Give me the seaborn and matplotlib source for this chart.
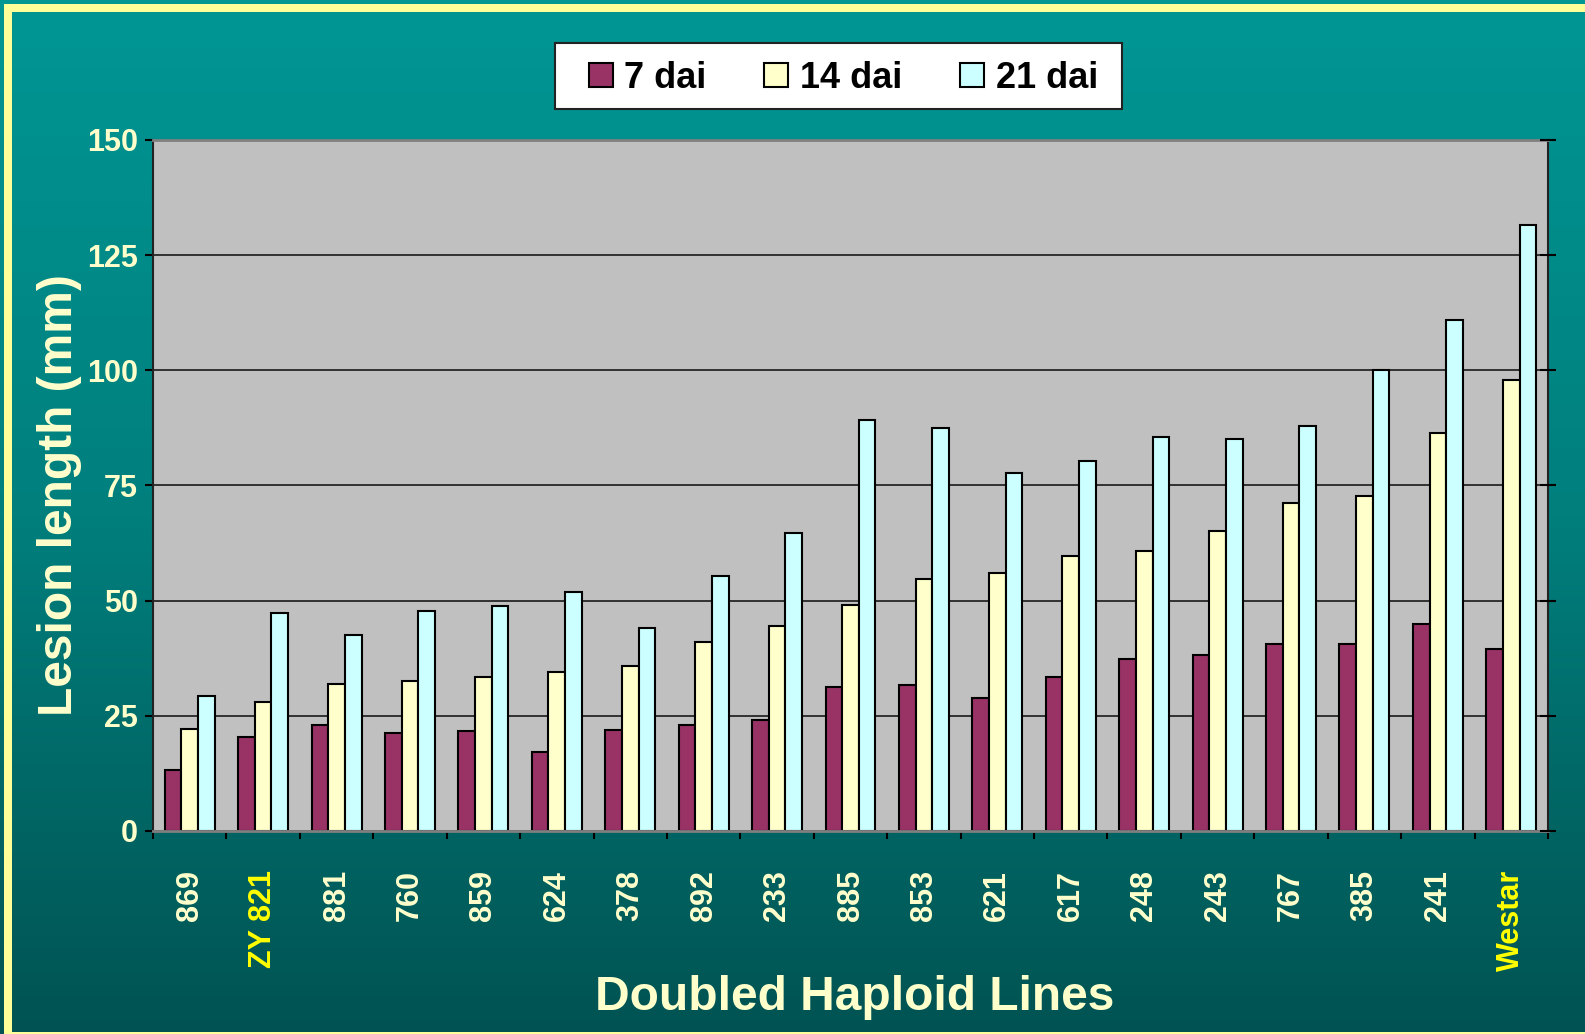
import numpy as np
import pandas as pd
import matplotlib
matplotlib.use("Agg")
import matplotlib.pyplot as plt
import seaborn as sns
from matplotlib.patches import Rectangle, Patch
from matplotlib.colors import LinearSegmentedColormap
from matplotlib.transforms import ScaledTranslation

# ---- data ----
lines = ["869", "ZY 821", "881", "760", "859", "624", "378", "892", "233", "885",
         "853", "621", "617", "248", "243", "767", "385", "241", "Westar"]
series = ["7 dai", "14 dai", "21 dai"]
dai7 = [13.2, 20.3, 23.0, 21.3, 21.7, 17.1, 21.9, 23.0, 24.1, 31.3,
        31.6, 28.9, 33.5, 37.3, 38.1, 40.5, 40.6, 44.9, 39.5]
dai14 = [22.1, 28.1, 32.0, 32.5, 33.5, 34.6, 35.9, 41.0, 44.5, 49.1,
         54.8, 56.1, 59.8, 60.7, 65.2, 71.3, 72.7, 86.3, 98.0]
dai21 = [29.2, 47.4, 42.5, 47.8, 48.8, 51.9, 44.0, 55.4, 64.6, 89.3,
         87.4, 77.7, 80.4, 85.6, 85.2, 88.0, 100.1, 110.9, 131.5]
yticks = [0, 25, 50, 75, 100, 125, 150]
highlight = ["ZY 821", "Westar"]

colors = ["#993366", "#FFFFCC", "#CCFFFF"]

df = pd.DataFrame({
    "line": lines * 3,
    "dai": [series[0]] * len(lines) + [series[1]] * len(lines) + [series[2]] * len(lines),
    "value": dai7 + dai14 + dai21,
})

plt.rcParams["font.family"] = ["Liberation Sans", "DejaVu Sans"]
plt.rcParams["font.weight"] = "bold"

W, H = 1585, 1034
fig = plt.figure(figsize=(W / 100, H / 100), dpi=100)

# background gradient + yellow frame
bg = fig.add_axes([0, 0, 1, 1], zorder=0)
grad = np.linspace(0, 1, 256).reshape(-1, 1)
cmap = LinearSegmentedColormap.from_list("bg", ["#009694", "#007F7D", "#005352"])
bg.imshow(grad, aspect="auto", cmap=cmap, extent=[0, 1, 0, 1], origin="upper")
bg.set_xlim(0, 1)
bg.set_ylim(0, 1)
bg.axis("off")
yel = "#FFFF99"
bg.add_patch(Rectangle((4 / W, 0), 8 / W, (H - 4) / H, color=yel, lw=0))
bg.add_patch(Rectangle((4 / W, (H - 12) / H), (W - 4) / W, 8 / H, color=yel, lw=0))
bg.add_patch(Rectangle((4 / W, 0), 1, 2 / H, color=yel, lw=0))
# legend box
bg.add_patch(Rectangle((555 / W, 1 - 109 / H), (1122 - 555) / W, (109 - 43) / H,
                       facecolor="white", edgecolor="#222222", lw=1.5))

# main axes
x0, x1, y0, y1 = 153, 1548, 140, 831
ax = fig.add_axes([x0 / W, 1 - y1 / H, (x1 - x0) / W, (y1 - y0) / H], zorder=1)
ax.set_facecolor("#C0C0C0")

sns.barplot(data=df, x="line", y="value", hue="dai", hue_order=series,
            order=lines, palette=colors, saturation=1, edgecolor="black",
            linewidth=1.5, width=0.68, errorbar=None, legend=False, ax=ax)

ax.set_xlim(-0.5, len(lines) - 0.5)
ax.set_ylim(0, 150)
ax.set_yticks(yticks)
ax.set_yticklabels([str(t) for t in yticks], fontsize=22, fontweight="bold", color="#FFFFCC")
ax.yaxis.grid(True, color="#1a1a1a", lw=1.2)
ax.xaxis.grid(False)
ax.set_axisbelow(True)

ax.tick_params(axis="y", direction="out", length=6, width=1.5, color="black", pad=5)
ax.set_xticks(range(len(lines)))
ax.set_xticklabels(lines, rotation=90, fontsize=22, fontweight="bold")
shift = ScaledTranslation(3 / 100, 0, fig.dpi_scale_trans)
for lab in ax.get_xticklabels():
    lab.set_color("#FFFF00" if lab.get_text() in highlight else "#FFFFCC")
    lab.set_transform(lab.get_transform() + shift)
ax.tick_params(axis="x", which="major", length=0, pad=28)
ax.set_xticks(np.arange(-0.5, len(lines), 1.0), minor=True)
ax.tick_params(axis="x", which="minor", direction="out", length=6, width=1.5, color="black")

for s in ["top", "bottom"]:
    ax.spines[s].set_color("#808080")
    ax.spines[s].set_linewidth(2)
for s in ["left", "right"]:
    ax.spines[s].set_color("#222222")
    ax.spines[s].set_linewidth(1.5)

ax.set_xlabel("Doubled Haploid Lines", fontsize=34.5, fontweight="bold", color="#FFFFCC")
ax.xaxis.label.set_va("center")
ax.xaxis.set_label_coords((855 - x0) / (x1 - x0), (y1 - 997) / (y1 - y0))
ax.set_ylabel("Lesion length (mm)", fontsize=34.5, fontweight="bold", color="#FFFFCC")
ax.yaxis.label.set_va("center")
ax.yaxis.set_label_coords((60 - x0) / (x1 - x0), (y1 - 495) / (y1 - y0))

# right-side inout ticks
ax2 = ax.twinx()
ax2.set_ylim(ax.get_ylim())
ax2.set_yticks(yticks)
ax2.tick_params(axis="y", direction="inout", length=12, width=1.5, color="black", labelright=False)
for s in ax2.spines.values():
    s.set_visible(False)

# legend (box drawn separately above)
handles = [Patch(facecolor=c, edgecolor="black", lw=1.5) for c in colors]
leg = fig.legend(handles, series, loc="center", bbox_to_anchor=(843.5 / W, 1 - 78 / H),
                 ncol=3, prop={"size": 26, "weight": "bold"}, frameon=False,
                 handlelength=0.66, handleheight=0.66, handletextpad=0.33,
                 columnspacing=1.6, borderpad=0)

fig.savefig("out.png", dpi=100)
